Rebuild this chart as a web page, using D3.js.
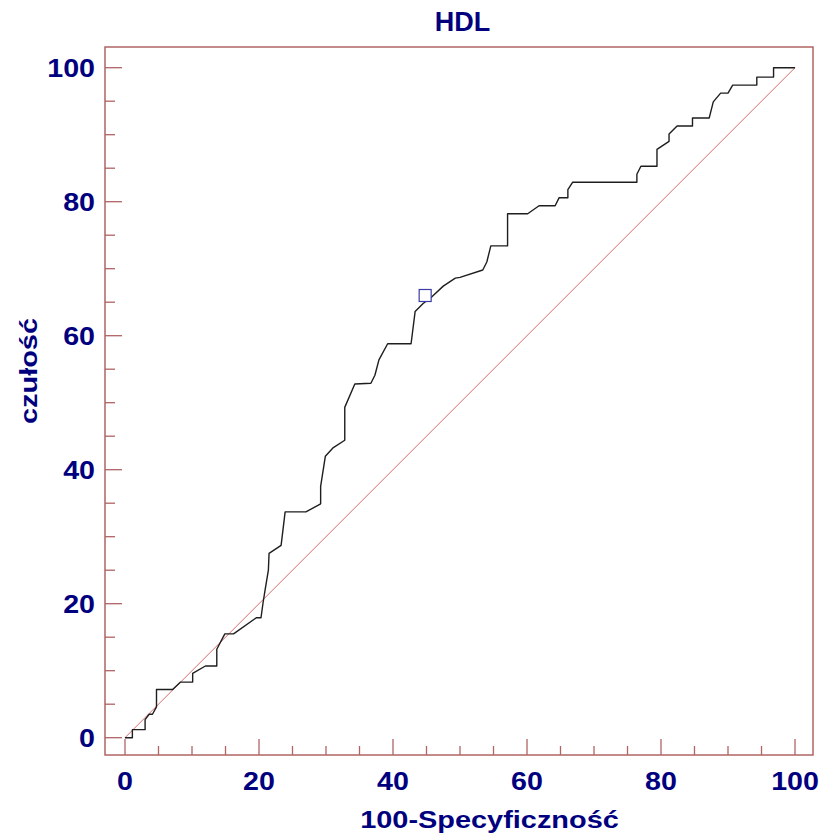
<!DOCTYPE html>
<html>
<head>
<meta charset="utf-8">
<script src="https://cdn.jsdelivr.net/npm/d3@7"></script>
<style>
  html, body { margin: 0; padding: 0; background: #fff; }
  svg { display: block; }
  text { font-family: "Liberation Sans", Arial, sans-serif; font-weight: bold; fill: #00007f; }
</style>
</head>
<body>
<script>
// ROC curve for HDL: x = 100 - specificity, y = sensitivity (both in %)
const rocX = [0, 1.1, 1.1, 3.0, 3.0, 3.6, 4.1, 4.7, 4.7, 7.1, 8.3, 10.1, 10.1, 12.0, 13.7, 13.7,
  14.9, 16.2, 19.6, 20.3, 20.6, 20.9, 21.4, 21.5, 23.3, 23.9, 27.0, 29.2, 29.2, 29.9, 31.1, 32.8,
  32.8, 34.3, 36.7, 37.3, 37.9, 39.2, 42.7, 43.3, 44.5, 45.8, 47.5, 49.3, 50.0, 53.4, 54.0, 54.6,
  57.1, 57.1, 60.1, 61.8, 64.2, 64.8, 66.1, 66.1, 66.8, 76.4, 76.4, 77.0, 79.4, 79.4, 81.2, 81.2,
  82.4, 84.7, 84.7, 87.2, 87.8, 88.9, 90.0, 90.7, 94.3, 94.3, 96.8, 96.8, 100];
const rocY = [0, 0, 1.2, 1.2, 2.7, 3.5, 3.5, 4.6, 7.2, 7.2, 8.3, 8.3, 9.6, 10.7, 10.7, 13.2,
  15.5, 15.5, 17.9, 17.9, 20.1, 22.0, 25.0, 27.5, 28.7, 33.7, 33.7, 34.9, 37.5, 42.0, 43.3, 44.4,
  49.3, 52.8, 52.9, 54.1, 56.4, 58.8, 58.8, 63.6, 64.8, 65.8, 67.4, 68.6, 68.7, 69.8, 71.0, 73.4,
  73.4, 78.2, 78.2, 79.4, 79.4, 80.6, 80.6, 81.8, 82.9, 82.9, 84.1, 85.3, 85.3, 87.8, 89.0, 90.1,
  91.3, 91.3, 92.5, 92.5, 94.9, 96.2, 96.2, 97.4, 97.4, 98.6, 98.6, 100, 100];

// Reference (chance) diagonal
const diagX = [0, 100];
const diagY = [0, 100];

// Optimal criterion point
const critX = [44.8];
const critY = [66.0];

const majorTicks = [0, 20, 40, 60, 80, 100];
const minorTicks = d3.range(0, 101, 5).filter(v => v % 20 !== 0);

const titleText = "HDL";
const xTitle = "100-Specyficzność";
const yTitle = "czułość";

const W = 824, H = 839;
const frame = { left: 105, top: 47, right: 813, bottom: 755 };

const x = d3.scaleLinear().domain([0, 100]).range([125, 795]);
const y = d3.scaleLinear().domain([0, 100]).range([737.7, 67.7]);

const frameColor = "#b06464";

const svg = d3.select("body").append("svg").attr("width", W).attr("height", H);

// Plot frame
svg.append("rect")
  .attr("x", frame.left).attr("y", frame.top)
  .attr("width", frame.right - frame.left).attr("height", frame.bottom - frame.top)
  .attr("fill", "none").attr("stroke", frameColor).attr("stroke-width", 1.5);

// Left axis ticks (pointing inward)
const yTicks = svg.append("g").attr("stroke", frameColor).attr("stroke-width", 1.3);
yTicks.selectAll("line.maj").data(majorTicks).join("line")
  .attr("x1", frame.left).attr("x2", frame.left + 17)
  .attr("y1", d => y(d)).attr("y2", d => y(d));
yTicks.selectAll("line.min").data(minorTicks).join("line")
  .attr("x1", frame.left).attr("x2", frame.left + 10)
  .attr("y1", d => y(d)).attr("y2", d => y(d));

// Bottom axis ticks (pointing inward)
const xTicks = svg.append("g").attr("stroke", frameColor).attr("stroke-width", 1.3);
xTicks.selectAll("line.maj").data(majorTicks).join("line")
  .attr("x1", d => x(d)).attr("x2", d => x(d))
  .attr("y1", frame.bottom).attr("y2", frame.bottom - 16);
xTicks.selectAll("line.min").data(minorTicks).join("line")
  .attr("x1", d => x(d)).attr("x2", d => x(d))
  .attr("y1", frame.bottom).attr("y2", frame.bottom - 9);

// Horizontally widened label helper
function label(px, py, str, size, anchor, sx, rotate) {
  const g = svg.append("g")
    .attr("transform", `translate(${px},${py})` + (rotate ? ` rotate(${rotate})` : "") + ` scale(${sx},1)`);
  g.append("text").attr("text-anchor", anchor).attr("font-size", size).text(str);
  return g;
}

// Tick labels
majorTicks.forEach(v => label(95, y(v) + 9, String(v), 26, "end", 1.1));
majorTicks.forEach(v => label(x(v), 790, String(v), 26, "middle", 1.1));

// Titles
label(462.5, 31, titleText, 27, "middle", 1.0);
label(489.5, 828, xTitle, 24.5, "middle", 1.18);
label(37, 371, yTitle, 24.5, "middle", 1.18, -90);

// Diagonal
const line = d3.line().x(d => x(d[0])).y(d => y(d[1]));
svg.append("path")
  .datum(diagX.map((v, i) => [v, diagY[i]]))
  .attr("d", line).attr("fill", "none")
  .attr("stroke", "#d46a6a").attr("stroke-width", 1);

// ROC curve
svg.append("path")
  .datum(rocX.map((v, i) => [v, rocY[i]]))
  .attr("d", line).attr("fill", "none")
  .attr("stroke", "#1e1e1e").attr("stroke-width", 1.4)
  .attr("stroke-linejoin", "round");

// Criterion marker
svg.selectAll("rect.crit").data(critX.map((v, i) => [v, critY[i]])).join("rect")
  .attr("class", "crit")
  .attr("x", d => x(d[0]) - 6).attr("y", d => y(d[1]) - 6)
  .attr("width", 12).attr("height", 12)
  .attr("fill", "#fff").attr("stroke", "#3c3ca8").attr("stroke-width", 1.2);
</script>
</body>
</html>
